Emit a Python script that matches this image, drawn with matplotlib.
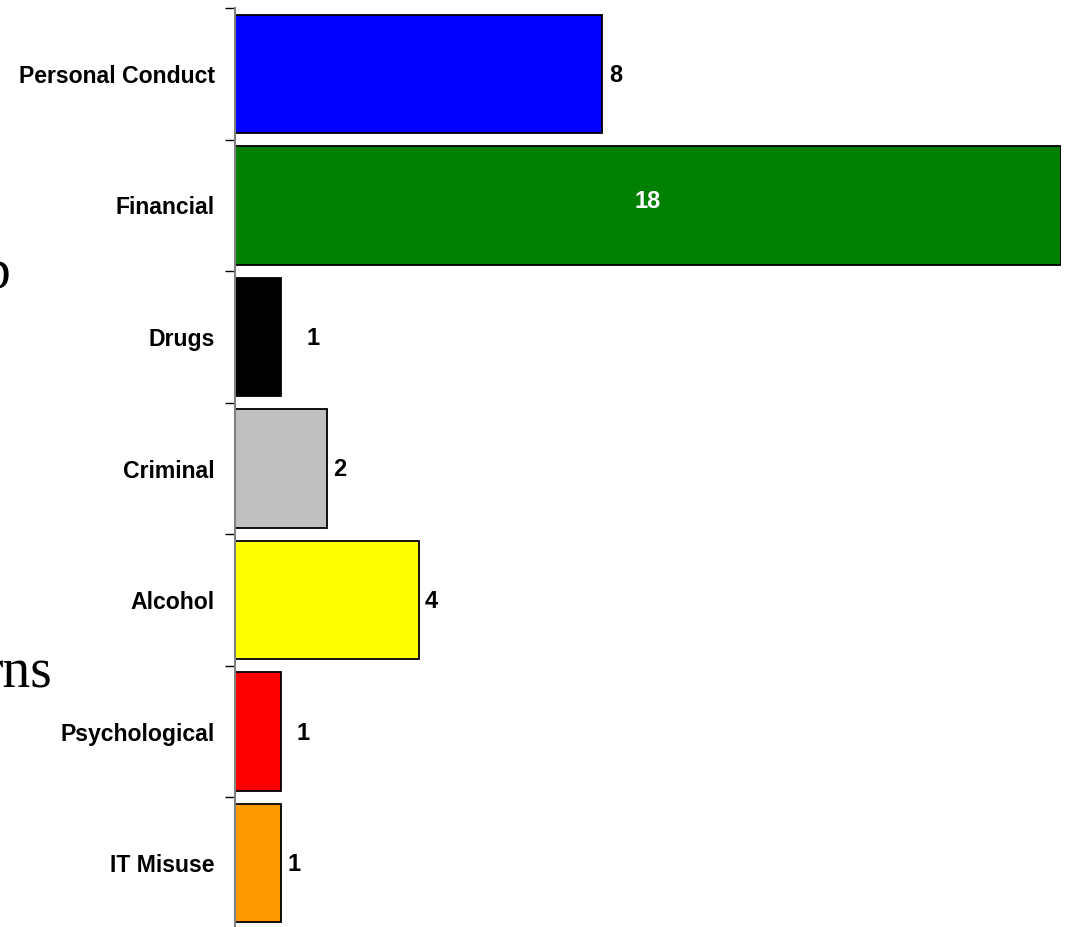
import matplotlib
matplotlib.use("Agg")
import matplotlib.pyplot as plt
import numpy as np

categories = ["Personal Conduct", "Financial", "Drugs", "Criminal", "Alcohol", "Psychological", "IT Misuse"]
values = [8, 18, 1, 2, 4, 1, 1]
colors = ["#0000FF", "#008000", "#000000", "#C0C0C0", "#FFFF00", "#FF0000", "#FF9900"]
# label offsets (pixels) to the right of bar end; None = centred inside bar
label_offsets = [7, None, 26, 6, 6, 16, 7]

FONT = ["Liberation Sans Narrow", "Liberation Sans", "DejaVu Sans"]

fig = plt.figure(figsize=(10.67, 9.27), dpi=100)
ax = fig.add_axes([235 / 1067, 1 - 929 / 927, 826 / 1067, 921 / 927])

y = np.arange(len(categories))
ax.barh(y, values, height=0.9, color=colors, edgecolor="black", linewidth=1.3, zorder=2)
ax.set_xlim(0, 18)
ax.set_ylim(len(categories) - 0.5, -0.5)

# ticks at boundaries, labels at centres
ax.set_yticks(np.arange(len(categories) + 1) - 0.5)
ax.set_yticklabels([])
ax.tick_params(axis="y", which="major", length=7, width=1.0, color="black", direction="out")
ax.set_yticks(y, minor=True)
ax.set_yticklabels(categories, minor=True, fontsize=16.6, fontweight="bold", family=FONT)
ax.tick_params(axis="y", which="minor", length=0, pad=14.5)
ax.set_xticks([])

for s in ["top", "right", "bottom"]:
    ax.spines[s].set_visible(False)
ax.spines["left"].set_color("#808080")
ax.spines["left"].set_linewidth(1.5)
ax.spines["left"].set_zorder(3)

for yi, v, off in zip(y, values, label_offsets):
    if off is None:
        ax.text(v / 2, yi - 0.03, str(v), ha="center", va="center", color="white",
                fontsize=17, fontweight="bold", family=FONT)
    else:
        ax.annotate(str(v), xy=(v, yi), xytext=(off * 0.72, -1), textcoords="offset points",
                    ha="left", va="center", color="black", fontsize=17, fontweight="bold", family=FONT)

# remnants of slide title text cut off at the left edge
fig.text(11 / 1067, 1 - 287 / 927, "b", ha="right", va="baseline", fontsize=40,
         family=["Liberation Serif", "DejaVu Serif"], color="black")
fig.text(53 / 1067, 1 - 687 / 927, "rns", ha="right", va="baseline", fontsize=40,
         family=["Liberation Serif", "DejaVu Serif"], color="black")

fig.savefig("out.png", dpi=100, facecolor="white")
